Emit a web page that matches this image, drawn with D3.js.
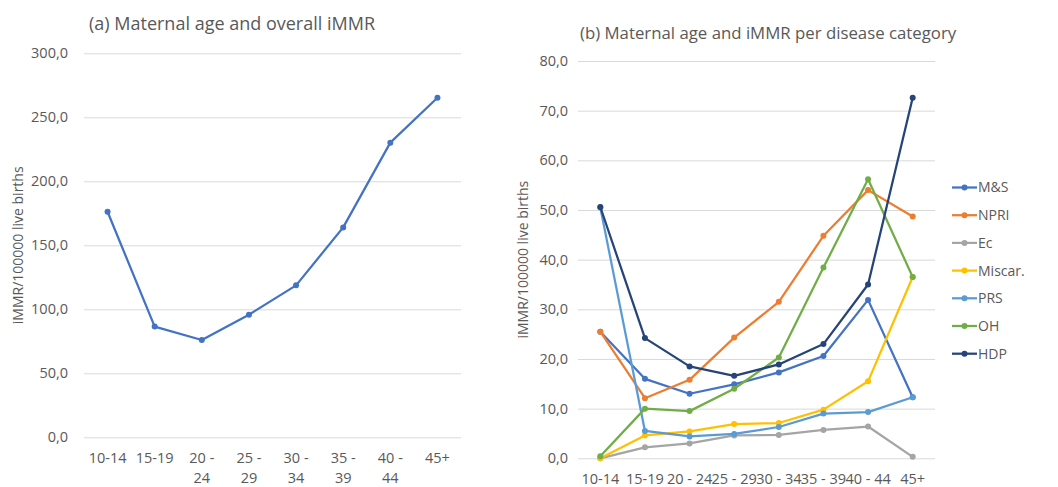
<!DOCTYPE html>
<html><head><meta charset="utf-8">
<script src="https://cdn.jsdelivr.net/npm/d3@7"></script>
<style>
html,body{margin:0;padding:0;background:#fff;}
svg{display:block;font-family:"Open Sans",sans-serif;}
</style></head>
<body><svg id="c" width="1058" height="487"></svg>
<script>
// ---- data ----
const categories = ["10-14","15-19","20 - 24","25 - 29","30 - 34","35 - 39","40 - 44","45+"];
const overallValues = [176.2, 86.5, 76.0, 95.8, 118.7, 164.0, 230.2, 265.3];
const leftTicks = [0, 50, 100, 150, 200, 250, 300];
const rightTicks = [0, 10, 20, 30, 40, 50, 60, 70, 80];
const seriesNames = ["M&S","NPRI","Ec","Miscar.","PRS","OH","HDP"];
const msValues     = [25.5, 16.0, 13.0, 14.9, 17.3, 20.6, 31.9, 12.3];
const npriValues   = [25.5, 12.1, 15.8, 24.3, 31.5, 44.8, 54.0, 48.7];
const ecValues     = [0.0, 2.2, 3.0, 4.6, 4.7, 5.7, 6.4, 0.3];
const miscarValues = [0.0, 4.6, 5.4, 6.9, 7.1, 9.8, 15.5, 36.5];
const prsValues    = [50.5, 5.5, 4.4, 4.9, 6.3, 9.0, 9.3, 12.3];
const ohValues     = [0.4, 10.0, 9.5, 14.0, 20.3, 38.4, 56.2, 36.5];
const hdpValues    = [50.6, 24.2, 18.5, 16.6, 18.9, 23.0, 35.0, 72.6];
const seriesValues = [msValues, npriValues, ecValues, miscarValues, prsValues, ohValues, hdpValues];
const seriesColors = ["#4472C4","#ED7D31","#A5A5A5","#FFC000","#5B9BD5","#70AD47","#264478"];

const svg = d3.select("#c");
const textColor = "#595959", gridColor = "#D9D9D9";
const fmt = v => d3.format(".1f")(v).replace(".", ",");

function panel(opts){
  const g = svg.append("g");
  const x = d3.scaleBand().domain(categories).range([opts.x0, opts.x1]);
  const y = d3.scaleLinear().domain([0, opts.ticks[opts.ticks.length-1]]).range([opts.y0, opts.y1]);
  // gridlines + y tick labels
  g.append("g").call(d3.axisLeft(y).tickValues(opts.ticks).tickSize(-(opts.x1-opts.x0)).tickFormat(fmt))
    .attr("transform", `translate(${opts.x0},0)`)
    .call(a => a.select(".domain").remove())
    .call(a => a.selectAll(".tick line").attr("stroke", gridColor).attr("stroke-width", 1))
    .call(a => a.selectAll(".tick text").attr("fill", textColor).attr("font-size", 14.5)
       .attr("font-family", '"Open Sans",sans-serif').attr("x", opts.tickGap));
  // x axis labels
  const xa = g.append("g").attr("transform", `translate(0,${opts.y0})`)
    .call(d3.axisBottom(x).tickSize(0).tickFormat(""));
  xa.select(".domain").remove();
  xa.selectAll(".tick").each(function(d){
    const t = d3.select(this).append("text").attr("fill", textColor).attr("font-size", 14.5)
      .attr("text-anchor", "middle").attr("font-family", '"Open Sans",sans-serif');
    if (opts.wrap && d.includes(" - ")) {
      const parts = d.split(" - ");
      t.append("tspan").attr("x", 0).attr("y", 26).text(parts[0] + " -");
      t.append("tspan").attr("x", 0).attr("y", 46).text(parts[1]);
    } else {
      t.attr("y", 26).text(d);
    }
  });
  // y axis title
  g.append("text").attr("transform", `translate(${opts.ytx},${(opts.y0+opts.y1)/2}) rotate(-90)`)
    .attr("text-anchor", "middle").attr("dy", "0.35em").attr("fill", textColor).attr("font-size", 14)
    .text("iMMR/100000 live births");
  // title
  g.append("text").attr("x", opts.tx).attr("y", opts.ty).attr("fill", textColor)
    .attr("font-size", opts.tsize).text(opts.title);
  return {g, x, y};
}

// left panel
const L = panel({x0: 84, x1: 461, y0: 437.3, y1: 53.3, ticks: leftTicks, wrap: true, tickGap: -16,
  ytx: 18, tx: 89, ty: 30, tsize: 18, title: "(a) Maternal age and overall iMMR"});
const lx = c => L.x(c) + L.x.bandwidth()/2;
L.g.append("path").datum(overallValues)
  .attr("fill","none").attr("stroke","#4472C4").attr("stroke-width",2.25).attr("stroke-linejoin","round")
  .attr("d", d3.line().x((d,i)=>lx(categories[i])).y(d=>L.y(d)));
L.g.selectAll(".pt").data(overallValues).join("circle")
  .attr("cx",(d,i)=>lx(categories[i])).attr("cy",d=>L.y(d)).attr("r",3).attr("fill","#4472C4");

// right panel
const R = panel({x0: 578, x1: 935, y0: 458.3, y1: 61, ticks: rightTicks, wrap: false, tickGap: -10,
  ytx: 523, tx: 580, ty: 39, tsize: 16.8, title: "(b) Maternal age and iMMR per disease category"});
const rx = c => R.x(c) + R.x.bandwidth()/2;
seriesValues.forEach((vals, k) => {
  const sg = R.g.append("g");
  sg.append("path").datum(vals)
    .attr("fill","none").attr("stroke",seriesColors[k]).attr("stroke-width",2.25).attr("stroke-linejoin","round")
    .attr("d", d3.line().x((d,i)=>rx(categories[i])).y(d=>R.y(d)));
  sg.selectAll("circle").data(vals).join("circle")
    .attr("cx",(d,i)=>rx(categories[i])).attr("cy",d=>R.y(d)).attr("r",3).attr("fill",seriesColors[k]);
});

// legend
const leg = svg.append("g").attr("transform","translate(952,187.5)");
seriesNames.forEach((n,k) => {
  const r = leg.append("g").attr("transform",`translate(0,${k*27.7})`);
  r.append("line").attr("x1",0).attr("x2",25).attr("stroke",seriesColors[k]).attr("stroke-width",2.25);
  r.append("circle").attr("cx",12.5).attr("r",3).attr("fill",seriesColors[k]);
  r.append("text").attr("x",26).attr("dy","0.35em").attr("fill",textColor).attr("font-size",14).text(n);
});
</script></body></html>
